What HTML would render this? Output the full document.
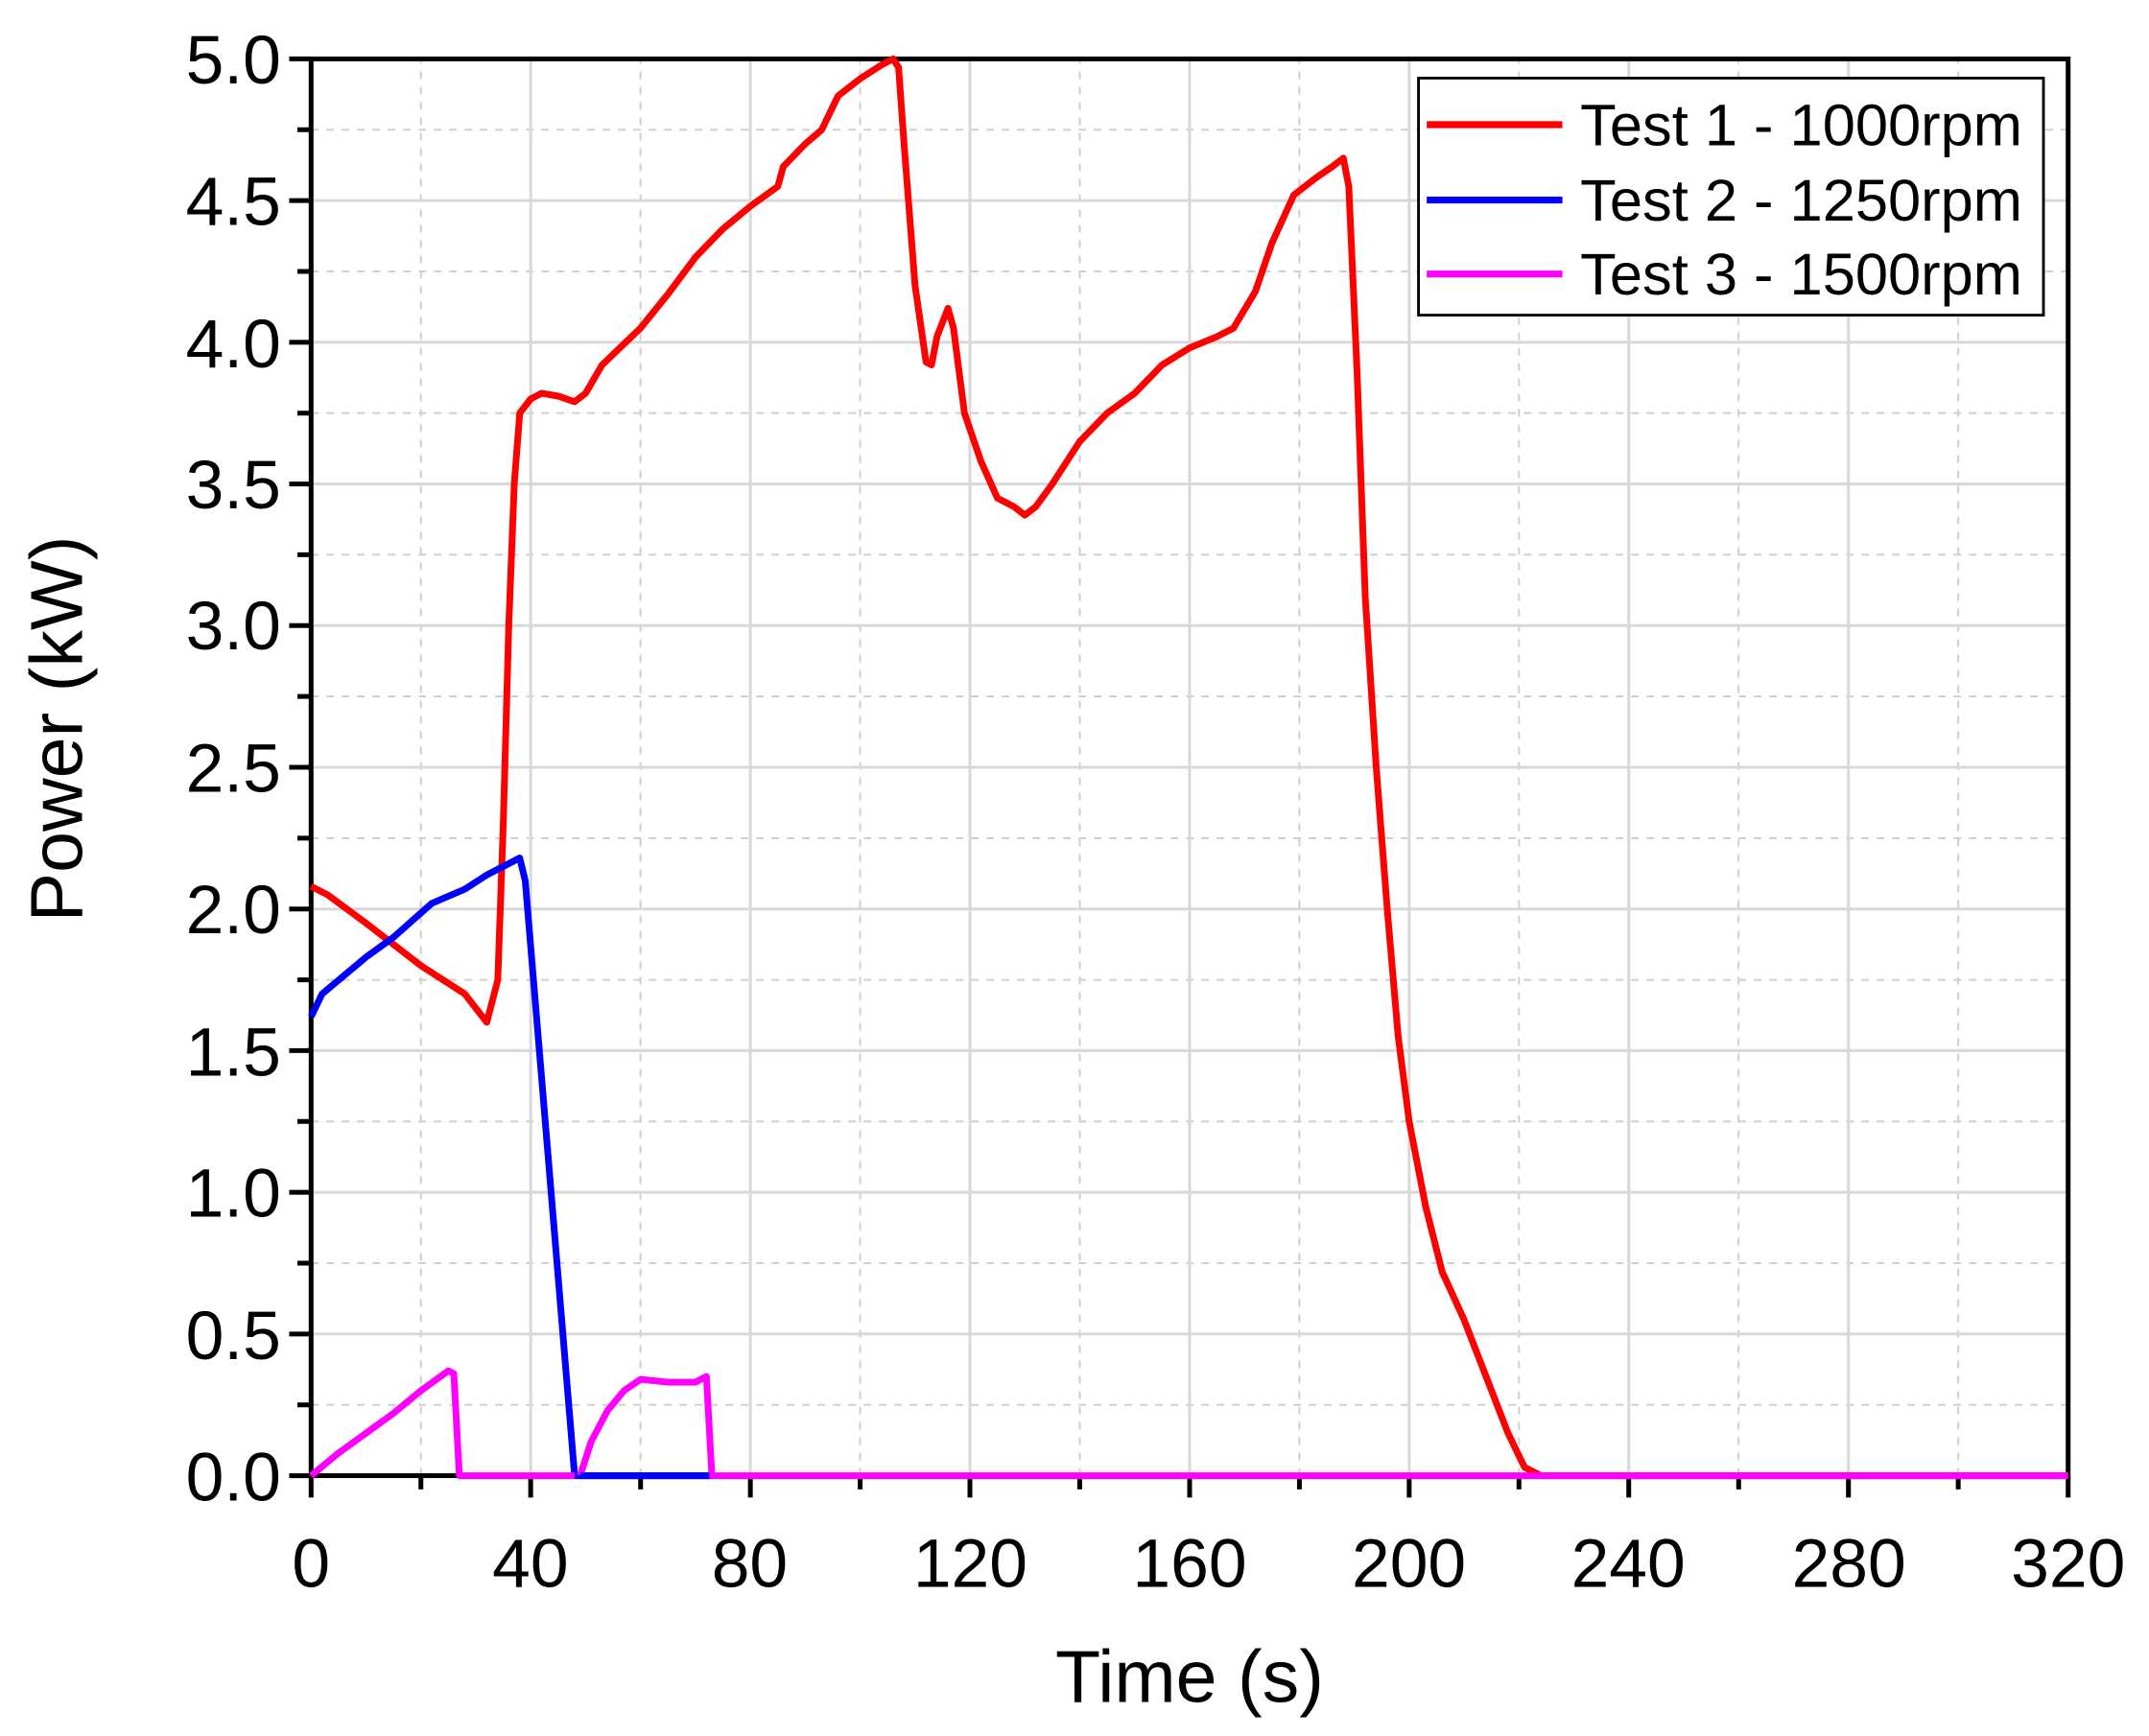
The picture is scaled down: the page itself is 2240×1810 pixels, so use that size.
<!DOCTYPE html>
<html><head><style>html,body{margin:0;padding:0;background:#fff}svg{display:block}</style></head>
<body>
<svg width="2240" height="1810" viewBox="0 0 1568 1267" xmlns="http://www.w3.org/2000/svg" font-family="Liberation Sans, Arial, sans-serif">
<rect width="1568" height="1267" fill="#fff"/>
<g transform="translate(227,1077) scale(4.006,-206.8)" fill="none">
  <g stroke="#cfcfcf" stroke-width="2" stroke-dasharray="8 8">
    <path vector-effect="non-scaling-stroke" d="M20,0V5M60,0V5M100,0V5M140,0V5M180,0V5M220,0V5M260,0V5M300,0V5"/>
    <path vector-effect="non-scaling-stroke" d="M0,0.25H320M0,0.75H320M0,1.25H320M0,1.75H320M0,2.25H320M0,2.75H320M0,3.25H320M0,3.75H320M0,4.25H320M0,4.75H320"/>
  </g>
  <g stroke="#d8d8d8" stroke-width="3">
    <path vector-effect="non-scaling-stroke" d="M40,0V5M80,0V5M120,0V5M160,0V5M200,0V5M240,0V5M280,0V5"/>
    <path vector-effect="non-scaling-stroke" d="M0,0.5H320M0,1H320M0,1.5H320M0,2H320M0,2.5H320M0,3H320M0,3.5H320M0,4H320M0,4.5H320"/>
  </g>
</g>
<rect x="227" y="43" width="1282" height="1034" fill="none" stroke="#000" stroke-width="3.5"/>
<g stroke="#000" stroke-width="3.5">
  <path d="M227,1077v16M387.2,1077v16M547.5,1077v16M707.7,1077v16M868,1077v16M1028.2,1077v16M1188.4,1077v16M1348.7,1077v16M1509,1077v16"/>
  <path d="M307.1,1077v10M467.4,1077v10M627.6,1077v10M787.8,1077v10M948.1,1077v10M1108.3,1077v10M1268.6,1077v10M1428.8,1077v10"/>
  <path d="M211,1077h16M211,973.6h16M211,870.2h16M211,766.8h16M211,663.4h16M211,560h16M211,456.6h16M211,353.2h16M211,249.8h16M211,146.4h16M211,43h16"/>
  <path d="M217,1025.3h10M217,921.9h10M217,818.5h10M217,715.1h10M217,611.7h10M217,508.3h10M217,404.9h10M217,301.5h10M217,198.1h10M217,94.7h10"/>
</g>
<g transform="translate(227,1077) scale(4.006,-206.8)" fill="none">
  <polyline vector-effect="non-scaling-stroke" stroke="#ff0000" stroke-width="7" stroke-linejoin="round" points="0,2.08 3,2.05 10,1.95 20,1.8 28,1.7 32,1.6 34,1.75 35,2.3 36,3.0 37,3.5 38,3.75 40,3.8 42,3.82 45,3.81 48,3.79 50,3.82 53,3.92 60,4.05 65,4.17 70,4.3 75,4.4 80,4.48 85,4.55 86,4.62 90,4.7 93,4.75 96,4.87 100,4.93 104,4.98 106,5.0 107,4.97 108,4.7 110,4.2 112,3.93 113,3.92 114,4.02 116,4.12 117,4.05 119,3.75 122,3.58 125,3.45 128,3.42 130,3.39 132,3.42 135,3.5 140,3.65 145,3.75 150,3.82 155,3.92 160,3.98 165,4.02 168,4.05 172,4.18 175,4.35 179,4.52 183,4.58 186,4.62 188,4.65 189,4.55 190.5,3.9 192,3.1 194,2.5 196,2.0 198,1.55 200,1.25 203,0.95 206,0.72 210,0.55 214,0.35 218,0.15 221,0.03 224,0 320,0"/>
  <polyline vector-effect="non-scaling-stroke" stroke="#0000ff" stroke-width="7" stroke-linejoin="round" points="0,1.62 2,1.7 10,1.83 15,1.9 22,2.02 28,2.07 32,2.12 38,2.18 39,2.1 48,0 73,0"/>
  <polyline vector-effect="non-scaling-stroke" stroke="#ff00ff" stroke-width="7" stroke-linejoin="round" points="0,0 5,0.08 15,0.22 20,0.3 25,0.37 26,0.36 27,0 48,0"/>
  <polyline vector-effect="non-scaling-stroke" stroke="#ff00ff" stroke-width="7" stroke-linejoin="round" points="49,0 51,0.12 54,0.23 57,0.3 60,0.34 65,0.33 70,0.33 72,0.35 73,0 320,0"/>
  <polyline vector-effect="non-scaling-stroke" stroke="#0000ff" stroke-width="7" points="49,0 72.5,0"/>
</g>
<g font-size="50" fill="#000" text-anchor="end">
  <text x="205" y="1095">0.0</text><text x="205" y="992">0.5</text><text x="205" y="888">1.0</text>
  <text x="205" y="785">1.5</text><text x="205" y="681">2.0</text><text x="205" y="578">2.5</text>
  <text x="205" y="474">3.0</text><text x="205" y="371">3.5</text><text x="205" y="268">4.0</text>
  <text x="205" y="164">4.5</text><text x="205" y="61">5.0</text>
</g>
<g font-size="50" fill="#000" text-anchor="middle">
  <text x="227" y="1158">0</text><text x="387" y="1158">40</text><text x="547" y="1158">80</text>
  <text x="708" y="1158">120</text><text x="868" y="1158">160</text><text x="1028" y="1158">200</text>
  <text x="1188" y="1158">240</text><text x="1349" y="1158">280</text><text x="1509" y="1158">320</text>
</g>
<text x="868" y="1242" font-size="54" text-anchor="middle">Time (s)</text>
<text transform="translate(60,532) rotate(-90)" font-size="54" text-anchor="middle">Power (kW)</text>
<rect x="1035" y="57" width="456" height="173" fill="#fff" stroke="#000" stroke-width="2"/>
<g stroke-width="5">
  <line x1="1041" y1="91" x2="1140" y2="91" stroke="#ff0000"/>
  <line x1="1041" y1="146" x2="1140" y2="146" stroke="#0000ff"/>
  <line x1="1041" y1="200" x2="1140" y2="200" stroke="#ff00ff"/>
</g>
<g font-size="43" fill="#000">
  <text x="1153" y="106">Test 1 - 1000rpm</text>
  <text x="1153" y="161">Test 2 - 1250rpm</text>
  <text x="1153" y="215">Test 3 - 1500rpm</text>
</g>
</svg>
</body></html>
